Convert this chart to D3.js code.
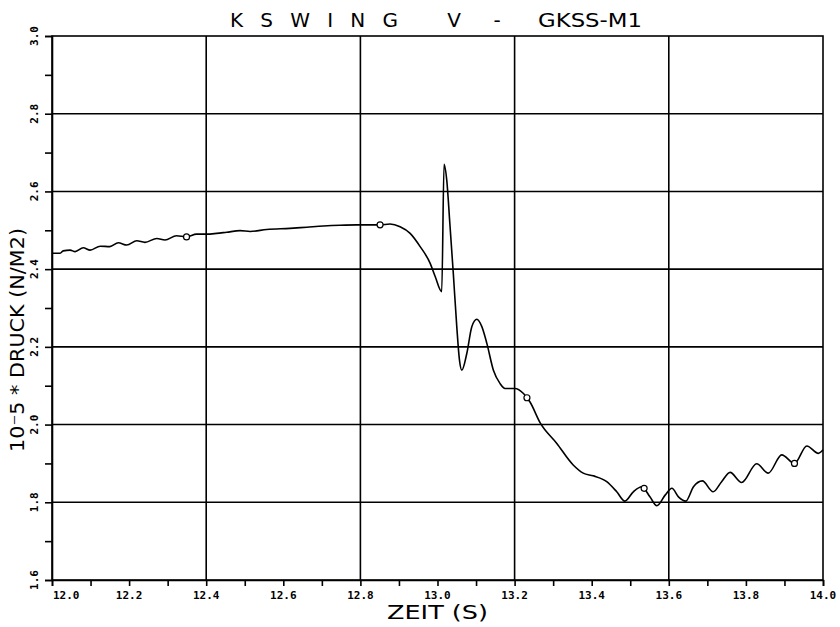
<!DOCTYPE html>
<html>
<head>
<meta charset="utf-8">
<script src="https://cdn.jsdelivr.net/npm/d3@7"></script>
<style>
  html, body { margin: 0; padding: 0; background: #fff; }
  svg { display: block; }
</style>
</head>
<body>
<svg id="chart" width="840" height="627"></svg>
<script>
// ---- data ----
const titleParts = ["K S W I N G", "V", "-", "GKSS-M1"];
const xTitle = "ZEIT (S)";
const yTitle = "10\u207B5 * DRUCK (N/M2)";

const xDomain = [12.0, 14.0];
const yDomain = [1.6, 3.0];

const xTickLabels = ["12.0", "12.2", "12.4", "12.6", "12.8", "13.0", "13.2", "13.4", "13.6", "13.8", "14.0"];
const yTickLabels = ["1.6", "1.8", "2.0", "2.2", "2.4", "2.6", "2.8", "3.0"];
const xGrid = [12.4, 12.8, 13.2, 13.6];
const yGrid = [1.8, 2.0, 2.2, 2.4, 2.6, 2.8];

const time = [
  12.000, 12.021, 12.029, 12.047, 12.060, 12.081, 12.099, 12.125, 12.150, 12.172,
  12.194, 12.220, 12.241, 12.272, 12.293, 12.323, 12.349, 12.375, 12.401, 12.427,
  12.453, 12.488, 12.514, 12.557, 12.617, 12.661, 12.704, 12.747, 12.790, 12.834,
  12.851, 12.877, 12.903, 12.929, 12.955, 12.981, 12.994, 13.011, 13.017, 13.024,
  13.032, 13.041, 13.050, 13.057, 13.063, 13.076, 13.089, 13.102, 13.115, 13.128,
  13.145, 13.162, 13.175, 13.201, 13.223, 13.240, 13.266, 13.309, 13.352, 13.378,
  13.404, 13.439, 13.465, 13.486, 13.508, 13.530, 13.551, 13.569, 13.591, 13.608,
  13.625, 13.644, 13.664, 13.687, 13.715, 13.737, 13.759, 13.789, 13.828, 13.858,
  13.893, 13.926, 13.958, 13.988, 14.000
];
const pressure = [
  2.441, 2.441, 2.447, 2.449, 2.445, 2.455, 2.449, 2.459, 2.458, 2.468,
  2.462, 2.473, 2.469, 2.479, 2.475, 2.486, 2.483, 2.490, 2.490, 2.492,
  2.495, 2.499, 2.497, 2.502, 2.505, 2.508, 2.511, 2.513, 2.514, 2.514,
  2.514, 2.516, 2.509, 2.492, 2.458, 2.415, 2.381, 2.342, 2.670, 2.629,
  2.518, 2.389, 2.252, 2.166, 2.140, 2.183, 2.252, 2.271, 2.252, 2.209,
  2.140, 2.106, 2.093, 2.093, 2.080, 2.058, 2.005, 1.952, 1.896, 1.875,
  1.868, 1.853, 1.827, 1.803, 1.827, 1.840, 1.814, 1.791, 1.819, 1.836,
  1.814, 1.803, 1.840, 1.855, 1.827, 1.853, 1.877, 1.851, 1.899, 1.875,
  1.922, 1.900, 1.945, 1.926, 1.935
];

const markerTime = [12.349, 12.851, 13.232, 13.536, 13.926];
const markerPressure = [2.483, 2.514, 2.069, 1.836, 1.900];

// ---- drawing ----
const svg = d3.select("#chart");
const x = d3.scaleLinear().domain(xDomain).range([52, 823]);
const y = d3.scaleLinear().domain(yDomain).range([580, 36]);
const ink = "#000";

// grid
svg.append("g").selectAll("line").data(yGrid).join("line")
  .attr("x1", x(xDomain[0])).attr("x2", x(xDomain[1]))
  .attr("y1", d => y(d)).attr("y2", d => y(d))
  .attr("stroke", ink).attr("stroke-width", 1.6);
svg.append("g").selectAll("line").data(xGrid).join("line")
  .attr("y1", y(yDomain[0])).attr("y2", y(yDomain[1]))
  .attr("x1", d => x(d)).attr("x2", d => x(d))
  .attr("stroke", ink).attr("stroke-width", 1.6);

// frame
svg.append("rect")
  .attr("x", x(xDomain[0])).attr("y", y(yDomain[1]))
  .attr("width", x(xDomain[1]) - x(xDomain[0]))
  .attr("height", y(yDomain[0]) - y(yDomain[1]))
  .attr("fill", "none").attr("stroke", ink).attr("stroke-width", 1.6);

// axes with minor ticks (every 0.1)
const xMinor = d3.range(0, 21).map(i => 12 + i * 0.1);
const yMinor = d3.range(0, 15).map(i => 1.6 + i * 0.1);
const xAxis = d3.axisBottom(x).tickValues(xMinor).tickSize(6).tickFormat("");
const yAxis = d3.axisLeft(y).tickValues(yMinor).tickSize(7).tickFormat("");
const gx = svg.append("g").attr("transform", `translate(0,${y(yDomain[0])})`).call(xAxis);
const gy = svg.append("g").attr("transform", `translate(${x(xDomain[0])},0)`).call(yAxis);
[gx, gy].forEach(g => {
  g.select(".domain").attr("stroke", ink).attr("stroke-width", 1.6);
  g.selectAll(".tick line").attr("stroke", ink).attr("stroke-width", 1.6);
});

// x tick labels
svg.append("g").selectAll("text").data(xTickLabels).join("text")
  .attr("x", (d, i) => i === 0 ? x(+d) + 1 : x(+d))
  .attr("y", 599)
  .attr("text-anchor", (d, i) => i === 0 ? "start" : "middle")
  .attr("font-family", "DejaVu Sans Mono, monospace")
  .attr("font-weight", "bold")
  .attr("font-size", 11)
  .attr("fill", ink)
  .text(d => d);

// y tick labels (rotated)
svg.append("g").selectAll("text").data(yTickLabels).join("text")
  .attr("transform", d => `translate(38,${y(+d)}) rotate(-90)`)
  .attr("text-anchor", "middle")
  .attr("font-family", "DejaVu Sans Mono, monospace")
  .attr("font-weight", "bold")
  .attr("font-size", 11)
  .attr("fill", ink)
  .text(d => d);

// title (one text, pieces placed like the reference)
const titleLayout = [
  { x: 230, anchor: "start", len: 168 },
  { x: 454, anchor: "middle", len: null },
  { x: 497, anchor: "middle", len: null },
  { x: 538, anchor: "start", len: 104 }
];
const titleText = svg.append("text")
  .attr("y", 27)
  .attr("font-family", "DejaVu Sans, sans-serif")
  .attr("font-size", 20)
  .attr("fill", ink);
titleParts.forEach((p, i) => {
  const l = titleLayout[i];
  const ts = titleText.append("tspan").attr("x", l.x).attr("text-anchor", l.anchor).text(p);
  if (l.len) ts.attr("textLength", l.len).attr("lengthAdjust", i === 0 ? "spacing" : "spacingAndGlyphs");
});

// axis titles
svg.append("text")
  .attr("x", 387).attr("y", 619)
  .attr("textLength", 101).attr("lengthAdjust", "spacingAndGlyphs")
  .attr("font-family", "DejaVu Sans, sans-serif")
  .attr("font-size", 19)
  .attr("fill", ink)
  .style("white-space", "pre")
  .text(xTitle);

svg.append("text")
  .attr("transform", "translate(24,452) rotate(-90)")
  .attr("textLength", 224).attr("lengthAdjust", "spacingAndGlyphs")
  .attr("font-family", "DejaVu Sans, sans-serif")
  .attr("font-size", 19)
  .attr("fill", ink)
  .style("white-space", "pre")
  .text(yTitle);

// curve
const pts = time.map((t, i) => [t, pressure[i]]);
const line = d3.line().x(d => x(d[0])).y(d => y(d[1])).curve(d3.curveMonotoneX);
svg.append("path").datum(pts)
  .attr("d", line)
  .attr("fill", "none").attr("stroke", ink).attr("stroke-width", 1.6)
  .attr("stroke-linejoin", "round");

// markers
svg.append("g").selectAll("circle").data(markerTime.map((t, i) => [t, markerPressure[i]])).join("circle")
  .attr("cx", d => x(d[0])).attr("cy", d => y(d[1])).attr("r", 3)
  .attr("fill", "#fff").attr("stroke", ink).attr("stroke-width", 1.2);
</script>
</body>
</html>
